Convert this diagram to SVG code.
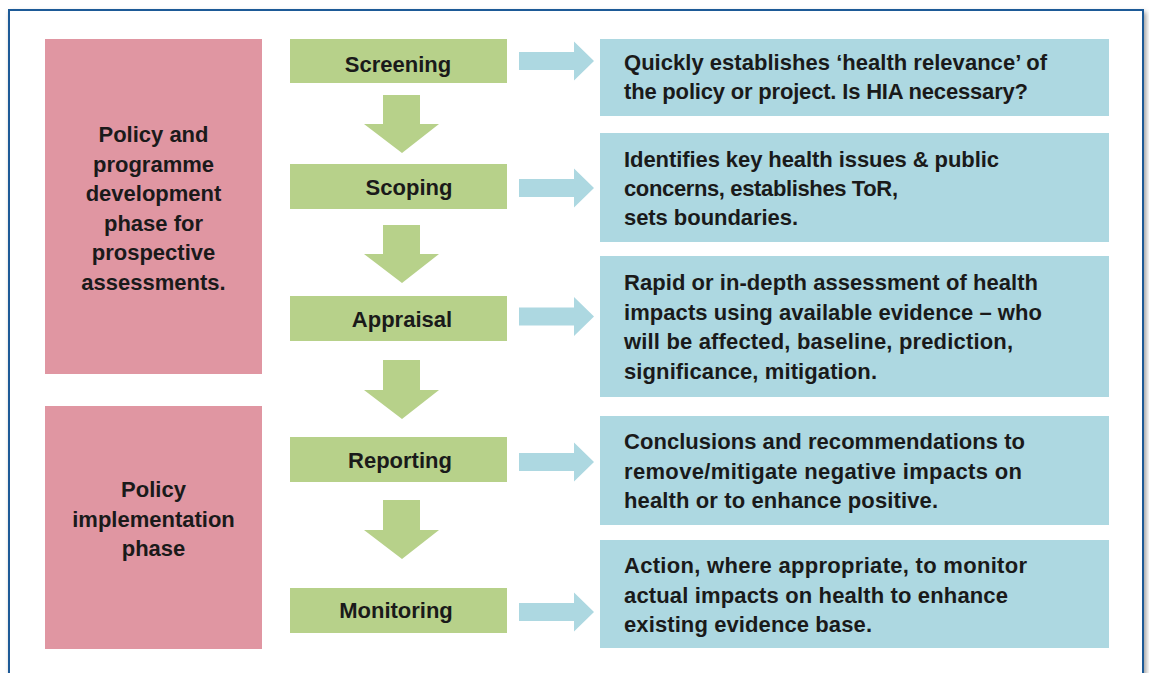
<svg xmlns="http://www.w3.org/2000/svg" width="1149" height="673" viewBox="0 0 1149 673">
<style>
.t{font-family:"Liberation Sans",Arial,sans-serif;font-weight:bold;font-size:22px;fill:#1a1a1a}
.c{text-anchor:middle}
.pink{fill:#e096a2}
.green{fill:#b7d18a}
.blue{fill:#add8e1}
</style>
<defs>
<filter id="sh" x="-5%" y="-5%" width="110%" height="110%"><feGaussianBlur stdDeviation="2.5"/></filter>
</defs>
<rect width="1149" height="673" fill="#ffffff"/>
<g id="frame">
<rect x="10" y="12" width="1136" height="700" fill="#9a9a9a" filter="url(#sh)"/>
<rect x="9" y="10" width="1134" height="700" fill="#ffffff" stroke="#1d5a97" stroke-width="2"/>
</g>
<g id="phase1">
<rect class="pink" x="45" y="39" width="217" height="335"/>
<text class="t c" x="153.5" y="142">Policy and</text>
<text class="t c" x="153.5" y="171.5">programme</text>
<text class="t c" x="153.5" y="201">development</text>
<text class="t c" x="153.5" y="230.5">phase for</text>
<text class="t c" x="153.5" y="260">prospective</text>
<text class="t c" x="153.5" y="289.5">assessments.</text>
</g>
<g id="phase2">
<rect class="pink" x="45" y="406" width="217" height="243"/>
<text class="t c" x="153.5" y="497">Policy</text>
<text class="t c" x="153.5" y="527">implementation</text>
<text class="t c" x="153.5" y="556">phase</text>
</g>
<g id="screening">
<rect class="green" x="290" y="39" width="217" height="44"/>
<text class="t c" x="398" y="72">Screening</text>
</g>
<g id="scoping">
<rect class="green" x="290" y="164" width="217" height="45"/>
<text class="t c" x="409" y="195">Scoping</text>
</g>
<g id="appraisal">
<rect class="green" x="290" y="296" width="217" height="45"/>
<text class="t c" x="402" y="327">Appraisal</text>
</g>
<g id="reporting">
<rect class="green" x="290" y="437" width="217" height="45"/>
<text class="t c" x="400" y="468">Reporting</text>
</g>
<g id="monitoring">
<rect class="green" x="290" y="588" width="217" height="45"/>
<text class="t c" x="396" y="618">Monitoring</text>
</g>
<g id="desc-screening">
<rect class="blue" x="600" y="39" width="509" height="77"/>
<text class="t" x="624" y="70" textLength="423">Quickly establishes ‘health relevance’ of</text>
<text class="t" x="624" y="99" textLength="404">the policy or project. Is HIA necessary?</text>
</g>
<g id="desc-scoping">
<rect class="blue" x="600" y="133" width="509" height="109"/>
<text class="t" x="624" y="167" textLength="375">Identifies key health issues &amp; public</text>
<text class="t" x="624" y="196" textLength="274">concerns, establishes ToR,</text>
<text class="t" x="624" y="225" textLength="174">sets boundaries.</text>
</g>
<g id="desc-appraisal">
<rect class="blue" x="600" y="256" width="509" height="141"/>
<text class="t" x="624" y="290" textLength="414">Rapid or in-depth assessment of health</text>
<text class="t" x="624" y="319.5" textLength="418">impacts using available evidence – who</text>
<text class="t" x="624" y="349" textLength="389">will be affected, baseline, prediction,</text>
<text class="t" x="624" y="378.5" textLength="253">significance, mitigation.</text>
</g>
<g id="desc-reporting">
<rect class="blue" x="600" y="416" width="509" height="109"/>
<text class="t" x="624" y="449" textLength="401">Conclusions and recommendations to</text>
<text class="t" x="624" y="478.5" textLength="398">remove/mitigate negative impacts on</text>
<text class="t" x="624" y="508" textLength="314">health or to enhance positive.</text>
</g>
<g id="desc-monitoring">
<rect class="blue" x="600" y="540" width="509" height="108"/>
<text class="t" x="624" y="573" textLength="403">Action, where appropriate, to monitor</text>
<text class="t" x="624" y="602.5" textLength="384">actual impacts on health to enhance</text>
<text class="t" x="624" y="632" textLength="248">existing evidence base.</text>
</g>
<g id="connectors">
<polygon class="green" points="383,95 420,95 420,124 439,124 402,153 364,124 383,124"/>
<polygon class="green" points="383,225 420,225 420,254 439,254 402,283 364,254 383,254"/>
<polygon class="green" points="383,360 420,360 420,390 439,390 402,419 364,390 383,390"/>
<polygon class="green" points="383,500 420,500 420,530 439,530 402,559 364,530 383,530"/>
<polygon class="blue" points="519,52 574,52 574,41.5 594,61 574,80.5 574,70 519,70"/>
<polygon class="blue" points="519,179 574,179 574,168.5 594,188 574,207.5 574,197 519,197"/>
<polygon class="blue" points="519,307.5 574,307.5 574,297 594,316.5 574,336 574,325.5 519,325.5"/>
<polygon class="blue" points="519,453 574,453 574,442.5 594,462 574,481.5 574,471 519,471"/>
<polygon class="blue" points="519,603 574,603 574,592.5 594,612 574,631.5 574,621 519,621"/>
</g>
</svg>
